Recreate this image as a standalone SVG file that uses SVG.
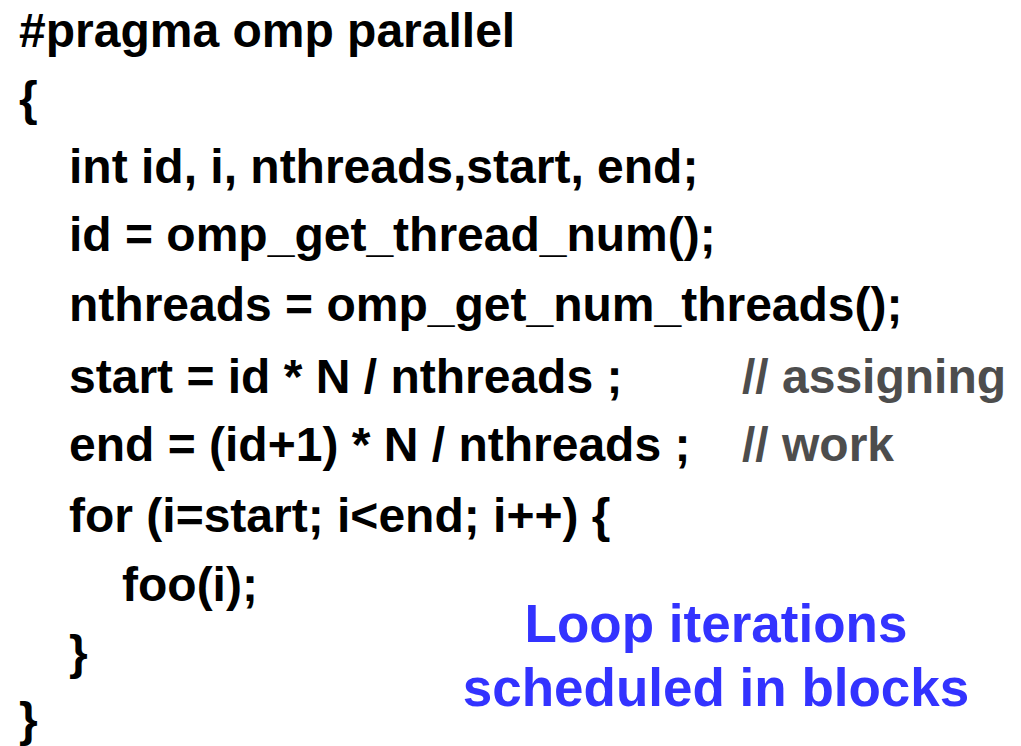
<svg xmlns="http://www.w3.org/2000/svg" width="1021" height="746" viewBox="0 0 1021 746">
  <style>
    text { font-family: "Liberation Sans", Arial, sans-serif; font-weight: bold; }
    .code { font-size: 48px; fill: #000000; }
    .comment { font-size: 48px; fill: #4d4d4d; }
    .note { font-size: 53px; fill: #3333ff; text-anchor: middle; }
  </style>
  <rect width="1021" height="746" fill="#ffffff"/>
  <g id="code">
    <text class="code" x="19" y="47">#pragma omp parallel</text>
    <text class="code" x="19" y="115">{</text>
    <text class="code" x="69" y="183">int id, i, nthreads,start, end;</text>
    <text class="code" x="69" y="251">id = omp_get_thread_num();</text>
    <text class="code" x="69" y="321">nthreads = omp_get_num_threads();</text>
    <text class="code" x="69" y="393">start = id * N / nthreads ;</text>
    <text class="code" x="69" y="461">end = (id+1) * N / nthreads ;</text>
    <text class="code" x="69" y="532">for (i=start; i&lt;end; i++) {</text>
    <text class="code" x="122" y="601">foo(i);</text>
    <text class="code" x="69" y="669">}</text>
    <text class="code" x="19" y="736">}</text>
  </g>
  <g id="comments">
    <text class="comment" x="742" y="393">// assigning</text>
    <text class="comment" x="742" y="461">// work</text>
  </g>
  <g id="note">
    <text class="note" x="716" y="642">Loop iterations</text>
    <text class="note" x="716" y="706">scheduled in blocks</text>
  </g>
</svg>
